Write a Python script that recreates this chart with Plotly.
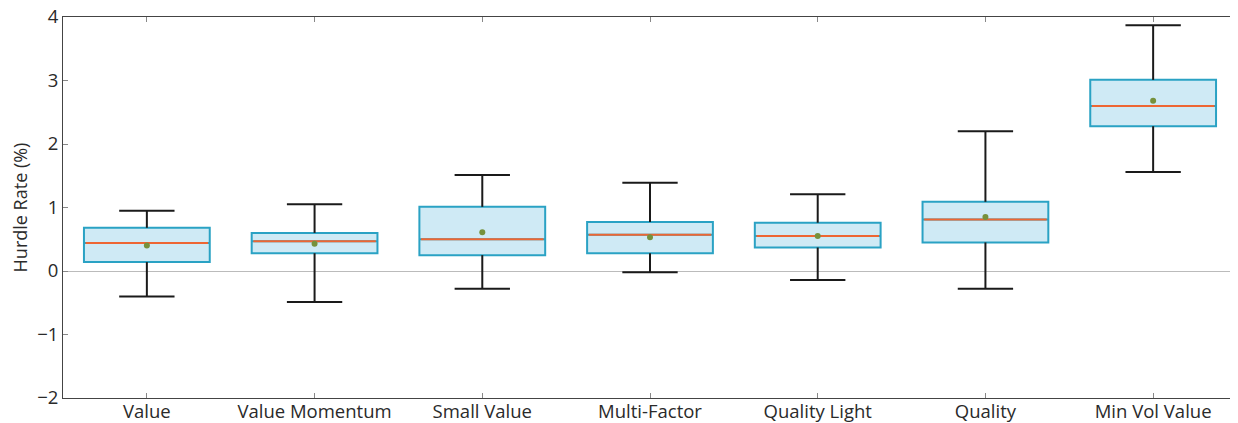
import plotly.graph_objects as go

categories = ["Value", "Value Momentum", "Small Value", "Multi-Factor",
              "Quality Light", "Quality", "Min Vol Value"]
upper_whisker = [0.95, 1.05, 1.51, 1.39, 1.21, 2.20, 3.87]
q3 = [0.68, 0.60, 1.01, 0.77, 0.76, 1.09, 3.01]
median = [0.44, 0.47, 0.50, 0.57, 0.55, 0.81, 2.60]
mean = [0.40, 0.43, 0.61, 0.53, 0.55, 0.85, 2.68]
q1 = [0.14, 0.28, 0.25, 0.28, 0.37, 0.45, 2.28]
lower_whisker = [-0.40, -0.49, -0.28, -0.02, -0.14, -0.28, 1.56]
y_ticks = [-2, -1, 0, 1, 2, 3, 4]
y_tick_labels = ["\u22122", "\u22121", "0", "1", "2", "3", "4"]

BOX_W = 0.75
CAP_W = 0.33
FONT = "Open Sans"

xs = list(range(len(categories)))
fig = go.Figure()

# whiskers (stems + caps)
wx, wy = [], []
for i in xs:
    wx += [i, i, None, i, i, None,
           i - CAP_W / 2, i + CAP_W / 2, None, i - CAP_W / 2, i + CAP_W / 2, None]
    wy += [lower_whisker[i], q1[i], None, q3[i], upper_whisker[i], None,
           upper_whisker[i], upper_whisker[i], None, lower_whisker[i], lower_whisker[i], None]
fig.add_trace(go.Scatter(x=wx, y=wy, mode="lines",
                         line=dict(color="#1a1a1a", width=2), hoverinfo="skip"))

# boxes
fig.add_trace(go.Box(x=xs, q1=q1, median=median, q3=q3,
                     lowerfence=q1, upperfence=q3, width=BOX_W,
                     line=dict(color="#2aa2c4", width=2),
                     fillcolor="#cfeaf5", whiskerwidth=0))

# medians
mx, my = [], []
for i in xs:
    mx += [i - BOX_W / 2 + 0.01, i + BOX_W / 2 - 0.01, None]
    my += [median[i], median[i], None]
fig.add_trace(go.Scatter(x=mx, y=my, mode="lines",
                         line=dict(color="#ee6633", width=2), hoverinfo="skip"))

# means
fig.add_trace(go.Scatter(x=xs, y=mean, mode="markers",
                         marker=dict(color="#76913c", size=6)))

fig.update_layout(
    width=1230, height=415,
    margin=dict(l=55, r=1, t=9, b=25, autoexpand=False),
    plot_bgcolor="white", paper_bgcolor="white",
    showlegend=False,
    font=dict(family=FONT, size=18, color="#2a2a2a"),
)
fig.update_xaxes(range=[-0.5, len(categories) - 0.5],
                 tickvals=xs, ticktext=categories, automargin=False,
                 showgrid=False, zeroline=False,
                 showline=True, linecolor="#444444", linewidth=1, mirror="ticks",
                 ticks="inside", ticklen=5, tickcolor="#888888",
                 tickfont=dict(size=18.5), ticklabeloverflow="allow",
                 ticklabelstandoff=-3)
fig.update_yaxes(range=[-2, 4], tickvals=y_ticks, ticktext=y_tick_labels,
                 automargin=False,
                 showgrid=False, zeroline=True, zerolinecolor="#bbbbbb", zerolinewidth=1,
                 showline=True, linecolor="#444444", linewidth=1, mirror="ticks",
                 ticks="inside", ticklen=5, tickcolor="#888888",
                 tickfont=dict(size=18.5), ticklabeloverflow="allow",
                 title=dict(text="Hurdle Rate (%)", font=dict(size=18), standoff=8))

fig.write_html("out.html")
